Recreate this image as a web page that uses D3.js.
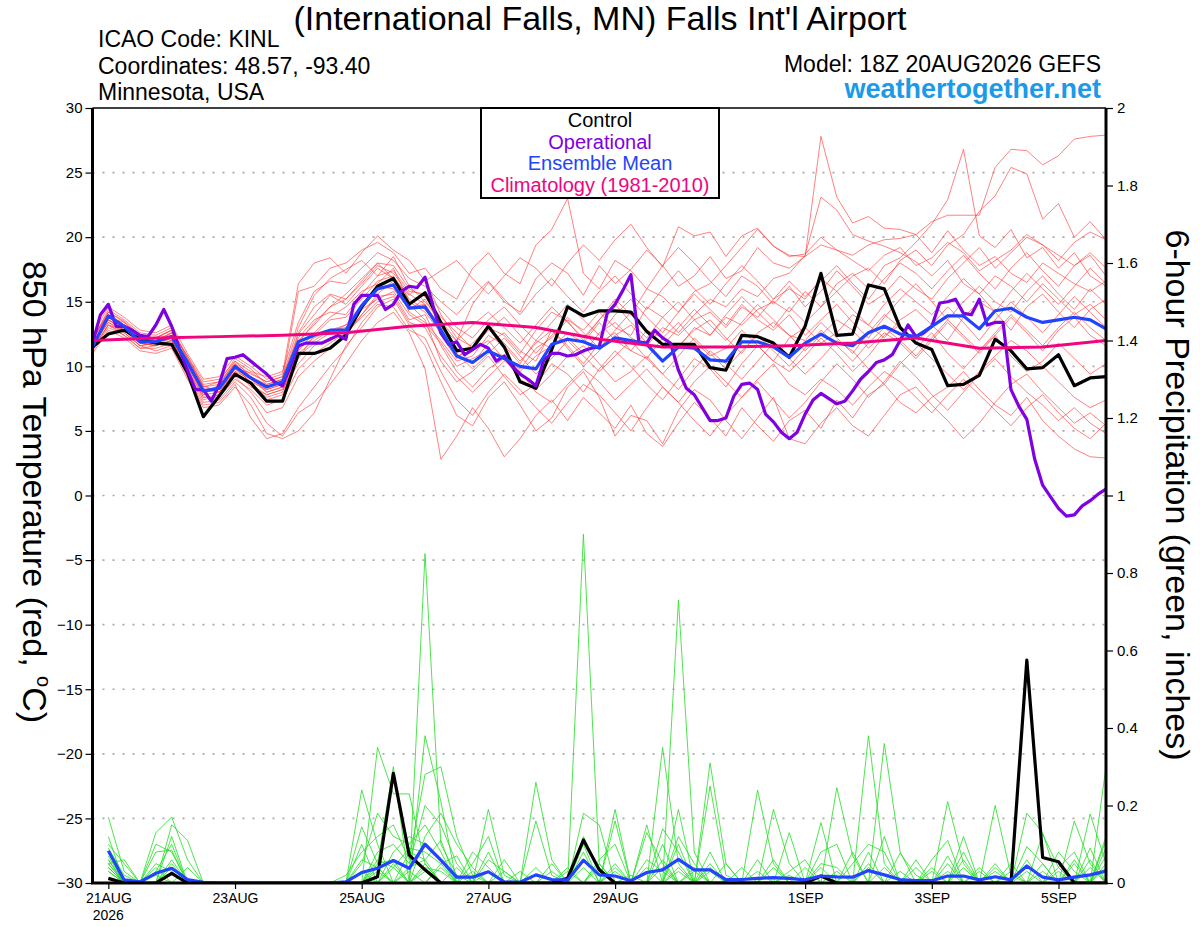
<!DOCTYPE html>
<html>
<head>
<meta charset="utf-8">
<script src="https://cdn.jsdelivr.net/npm/d3@7"></script>
<style>
body { margin: 0; background: #fff; }
svg { font-family: "Liberation Sans", Arial, Helvetica, sans-serif; }
</style>
</head>
<body>
<svg id="chart" width="1200" height="927"></svg>
<script>
// run start 18Z 20AUG2026, 6-hourly steps (operational is 3-hourly)
const runStart = Date.UTC(2026, 7, 20, 18);

const dateTicks = ["2026-08-21", "2026-08-23", "2026-08-25", "2026-08-27", "2026-08-29", "2026-09-01", "2026-09-03", "2026-09-05"];
const tempTicks = [-30, -25, -20, -15, -10, -5, 0, 5, 10, 15, 20, 25, 30];
const precipTicks = [0, 0.2, 0.4, 0.6, 0.8, 1, 1.2, 1.4, 1.6, 1.8, 2];

// 850 hPa temperature, 6-hourly from 18Z 20AUG
const tempControl = [11.5,12.5,12.8,12.1,11.8,11.7,9.5,6.1,7.7,9.4, 8.7,7.3,7.3,11.0,11.0,11.4,12.4,14.6,16.2,16.8,
  14.8,15.7,13.4,11.2,11.4,13.1,11.5,8.8,8.3,11.3, 14.6,13.9,14.3,14.3,14.2,12.7,11.7,11.7,11.7,9.9,
  9.7,12.4,12.3,11.8,10.7,13.1,17.2,12.4,12.5,16.3, 16.0,13.0,11.8,11.3,8.5,8.6,9.3,12.1,11.2,9.8, 9.9,10.9,8.5,9.1,9.2];
const tempMean = [11.5,13.9,13.1,11.9,11.9,12.3,10.3,8.1,8.3,10.0, 9.1,8.4,8.8,11.9,12.4,12.8,12.8,14.7,16.0,16.3,
  14.5,14.6,12.8,10.8,10.3,11.2,10.6,10.0,9.8,11.7, 12.1,11.9,11.4,12.2,12.0,11.7,10.4,11.5,11.4,10.5,
  10.4,11.9,11.9,11.5,10.7,11.8,12.5,11.8,11.6,12.6, 13.1,12.5,12.3,13.1,13.9,13.9,12.9,14.3,14.5,13.8, 13.4,13.6,13.8,13.6,12.9];
// operational, 3-hourly
const tempOperational = [11.8,14.0,14.8,13.1,13.1,12.8,12.4,12.3,13.2,14.4,
  13.1,11.3,9.7,8.2,8.2,7.3,8.6,10.6,10.7,10.9, 10.4,9.9,9.4,8.8,8.5,10.0,11.6,11.8,11.8,11.8,
  12.1,12.4,12.1,14.8,15.5,15.5,15.5,14.4,14.8,15.8, 16.2,16.1,16.9,14.7,12.6,11.7,11.9,10.9,11.3,11.7,
  11.4,10.4,10.8,10.0,9.4,9.0,8.5,10.5,11.0,11.0, 10.8,10.9,11.2,11.4,11.5,14.1,14.8,15.9,17.1,11.9,
  11.8,12.8,12.2,11.8,9.7,8.3,7.8,6.8,5.8,5.8, 6.0,7.7,8.6,8.7,8.2,6.3,5.7,4.9,4.4,4.9,
  6.3,7.4,7.9,7.5,7.1,7.3,8.1,9.0,9.6,10.3, 10.5,10.9,12.0,13.2,12.3,12.6,13.1,14.9,15.0,15.2,
  14.1,14.0,15.2,13.2,13.4,13.4,8.2,6.9,5.9,2.8, 0.8,-0.1,-1.0,-1.6,-1.5,-0.8,-0.4,0.1,0.5];
// climatology, daily
const climatology = [12.0,12.2,12.3,12.4,12.6,13.1,13.4,13.0,12.1,11.5,11.5,11.6,11.8,12.2,11.4,11.5,12.0];

const tempMembers = [
  [12.0,14.2,13.5,12.4,12.0,12.6,10.8,8.5,8.0,9.8,9.5,8.8,9.2, 13.0,15.5,16.8,17.5,18.2,17.0,18.5,16.2,15.0,
   13.5,12.0,14.8,16.5,15.0,14.2,16.8,18.0,17.2,15.5,17.8,16.4,17.5,19.0,17.8,16.2,17.0,18.5,16.8,17.4,19.2,18.0,17.6,
   18.5,19.4,19.0,18.6,19.4,19.8,19.9,20.2,21.2,21.7,21.7,21.7,25.4,26.8,26.7,25.6,26.3,27.6,27.8,27.9],
  [11.8,13.6,13.0,11.8,11.6,12.0,10.0,7.8,8.6,10.4,9.2,8.0,8.4, 12.5,14.0,15.5,14.8,16.2,17.6,16.8,15.5,16.8,
   14.0,12.2,11.5,13.0,12.4,11.0,12.8,14.2,13.5,12.0,13.6,15.2,14.0,16.0,15.4,14.2,15.8,16.4,17.8,19.2,20.6,19.3,18.6,
   18.5,27.8,23.1,21.1,21.6,20.7,20.6,20.2,18.8,20.5,19.0,17.8,18.5,17.2,16.5,18.0,17.2,16.4,15.8,16.6],
  [11.4,13.2,12.8,11.6,11.8,12.4,10.6,8.4,8.8,10.2,8.6,7.6,8.0, 11.2,12.6,13.8,14.6,15.8,16.4,17.6,15.0,14.2,
   12.6,10.8,11.2,12.0,10.5,9.8,11.4,12.2,13.6,12.8,14.2,13.0,12.4,14.6,13.8,12.6,14.0,15.2,14.6,16.0,15.4,16.8,17.2,
   18.6,23.1,22.1,20.2,19.7,19.3,18.8,18.1,17.0,18.2,16.4,15.6,17.0,16.2,15.0,16.4,15.2,14.0,14.8,13.6],
  [12.2,14.0,13.2,12.0,12.2,12.8,10.2,8.0,8.2,9.6,9.0,8.2,8.6, 12.0,13.2,14.6,15.6,16.8,18.0,16.8,14.2,13.4,
   12.0,10.4,10.8,12.4,11.6,10.2,12.0,11.4,12.6,11.8,13.4,12.0,11.2,12.8,12.2,11.4,13.0,12.4,13.8,13.2,14.4,15.0,14.2,
   15.8,14.6,16.4,17.2,16.0,17.8,18.4,19.6,21.0,22.9,26.8,20.1,19.2,20.6,18.4,19.2,17.6,18.8,17.0,16.2],
  [11.6,13.8,13.4,12.2,11.9,12.2,9.8,7.6,7.8,9.4,8.8,7.4,7.8, 10.8,11.8,12.6,13.2,14.4,15.2,15.8,14.0,13.2,
   11.8,10.0,10.6,11.2,10.8,9.6,10.8,11.6,12.2,11.0,12.6,13.4,12.2,11.6,13.0,12.4,13.6,14.2,13.0,14.6,13.8,15.2,16.0,
   15.2,16.8,15.8,17.0,17.6,16.4,18.2,19.0,17.8,19.4,20.2,22.0,23.2,25.4,24.9,21.4,22.6,20.0,21.2,19.8],
  [12.0,14.4,13.6,12.6,12.4,13.0,10.6,8.6,8.8,10.6,9.8,8.6,9.0, 15.8,16.2,17.6,18.0,19.0,19.6,18.8,17.2,17.6,
   16.0,15.2,17.6,18.8,17.2,16.4,19.4,20.6,23.0,17.2,16.0,18.2,17.4,16.0,17.8,19.2,18.0,16.6,15.4,17.0,16.2,14.8,16.2,
   14.6,15.8,17.4,16.2,14.8,15.6,17.0,16.0,15.2,16.8,18.0,19.2,17.6,18.8,20.0,19.4,18.2,19.6,20.4,19.8],
  [12.4,14.6,13.8,12.8,12.6,13.2,11.0,9.0,9.2,10.8,10.0,9.0,9.4, 16.4,18.0,18.4,17.2,18.8,20.1,19.0,18.2,16.6,
   17.4,18.2,16.8,15.6,17.0,18.4,17.6,16.2,18.0,19.4,18.2,19.8,21.0,19.2,17.7,20.8,20.1,20.4,18.5,20.1,20.7,19.3,18.5,
   18.7,20.0,19.0,18.2,17.4,18.6,19.2,17.8,18.4,19.6,18.8,17.4,18.2,19.0,20.2,19.4,18.6,17.8,18.8,17.6],
  [11.2,13.0,12.4,11.4,11.4,11.8,9.4,7.2,7.4,8.8,7.6,5.6,4.6, 6.4,7.2,8.6,10.2,12.0,13.4,14.2,12.6,9.8,
   2.8,4.6,6.8,5.2,3.0,4.4,6.2,7.4,5.8,7.6,6.4,5.2,7.0,4.8,3.8,5.6,7.2,6.0,4.6,6.8,5.4,4.2,5.8,
   6.6,5.2,7.4,6.0,7.8,8.6,7.2,6.4,7.6,8.4,9.6,8.2,7.0,6.2,7.6,5.8,4.6,3.6,3.0,2.9],
  [11.0,12.8,12.2,11.2,11.0,11.4,9.0,6.8,7.0,8.4,7.0,4.8,4.4, 5.0,6.4,9.0,11.6,13.0,14.6,15.2,13.2,11.6,
   8.8,6.2,5.4,7.6,8.8,7.0,5.0,6.0,8.4,9.6,7.6,4.6,6.2,5.8,4.0,6.6,8.2,7.4,5.8,4.4,6.0,7.6,4.4,
   4.0,5.6,6.8,5.4,4.6,6.2,7.8,8.4,7.0,5.8,4.4,5.6,7.2,8.6,9.4,8.0,6.8,5.6,6.4,5.4],
  [11.6,13.4,12.6,11.6,11.8,12.6,10.4,8.2,8.0,9.2,8.0,6.4,6.8, 9.2,10.4,11.4,12.6,14.0,15.6,16.6,14.8,13.6,
   10.4,8.8,9.6,10.8,9.2,7.8,8.6,10.2,9.4,8.0,9.8,11.2,10.0,8.6,7.4,9.0,10.6,9.8,8.4,10.2,11.6,10.4,9.6,
   10.8,12.2,11.0,9.6,10.8,12.4,13.2,11.8,10.6,9.4,8.2,9.6,10.8,12.0,11.2,10.0,8.8,7.6,6.8,7.4],
  [11.8,14.0,13.2,12.2,12.0,12.4,10.2,8.0,8.4,10.0,9.2,8.4,8.8, 11.4,12.2,12.8,13.0,14.6,16.2,16.0,14.4,15.2,
   13.2,11.4,10.2,11.8,12.6,11.2,10.4,12.8,11.6,10.2,11.8,12.6,11.2,10.6,12.2,13.4,12.0,10.8,11.4,12.8,11.6,10.4,12.2,
   13.0,11.8,12.6,14.0,13.2,12.2,13.6,14.4,13.2,12.0,13.8,15.0,14.2,12.8,14.6,15.6,14.2,13.0,14.4,15.2],
  [11.4,13.6,12.8,11.8,11.6,12.0,10.0,7.8,8.0,9.6,8.4,7.8,8.2, 10.2,11.6,12.2,12.4,14.0,15.4,15.6,13.6,14.0,
   11.6,9.6,8.4,9.8,10.6,9.0,8.2,9.4,10.8,11.6,10.2,8.8,9.6,10.8,9.4,8.2,9.8,11.2,10.2,9.0,10.4,11.8,10.6,
   9.4,10.6,12.0,11.2,9.8,8.6,10.2,11.4,12.6,11.0,9.8,11.2,12.4,10.8,9.6,10.4,11.8,10.6,9.4,10.2],
  [11.2,13.2,12.6,11.6,11.2,11.6,9.2,7.0,7.2,8.6,6.0,4.4,4.8, 6.8,8.4,10.0,11.4,13.4,14.8,14.6,12.8,12.2,
   9.6,7.4,6.2,8.0,9.4,8.2,6.8,5.6,7.2,8.6,7.8,6.4,5.0,6.8,8.4,7.2,5.8,4.6,6.2,7.6,8.8,7.4,6.0,
   7.2,8.8,10.2,9.0,7.6,8.8,10.4,9.2,7.8,6.6,8.0,9.4,10.6,9.2,8.0,7.0,5.8,6.8,5.6,4.8],
  [11.8,13.8,13.0,12.0,12.2,12.8,10.6,8.4,8.6,10.2,9.4,8.8,9.2, 12.2,13.6,14.2,14.0,15.6,17.0,17.4,15.8,15.6,
   14.4,13.0,12.2,13.6,14.6,13.2,12.0,13.4,14.8,13.6,12.4,14.0,15.2,13.8,12.6,14.2,15.6,14.4,13.2,14.8,13.6,12.8,14.0,
   12.4,13.6,14.8,13.4,12.2,13.8,15.2,16.4,15.0,13.6,15.0,16.2,15.0,14.2,15.8,17.0,15.6,14.4,16.0,14.8],
  [11.6,13.4,12.8,11.8,12.0,12.4,10.2,8.0,8.2,9.8,9.0,8.0,8.4, 11.0,12.0,12.8,13.2,14.8,16.0,16.4,14.6,14.8,
   12.4,10.6,11.8,13.0,11.8,10.4,11.8,12.8,11.4,10.0,11.2,12.4,13.2,11.8,10.4,11.6,12.8,13.6,12.2,11.0,12.6,13.4,12.4,
   11.2,12.4,13.6,12.8,11.4,12.6,11.8,10.6,12.0,13.4,12.2,11.0,12.4,13.8,12.6,11.2,12.8,13.8,12.4,11.6],
  [11.4,13.2,12.4,11.4,11.6,12.2,9.8,7.6,7.6,9.0,8.2,7.0,7.4, 9.8,11.0,11.8,12.6,13.8,15.0,15.4,13.4,13.0,
   10.8,9.2,8.0,9.2,10.4,9.6,8.0,7.2,8.6,9.8,8.8,7.4,8.6,9.8,8.4,7.2,8.8,10.0,8.8,7.6,9.0,10.2,8.6,
   7.8,9.0,8.2,7.0,8.4,9.6,8.8,7.6,6.4,7.8,9.0,7.8,6.6,5.4,6.8,7.8,6.4,5.2,4.4,5.6],
  [12.2,14.2,13.4,12.4,12.2,12.8,10.8,8.8,9.0,10.4,9.6,9.2,9.6, 13.4,15.8,16.6,16.4,17.6,18.8,18.2,16.8,16.2,
   15.0,14.0,15.4,16.6,15.2,14.0,15.6,16.8,15.4,14.2,15.8,17.0,15.6,14.4,16.0,17.4,16.0,14.8,16.4,17.8,16.6,15.2,16.6,
   15.4,16.6,17.8,16.4,15.2,16.8,18.0,17.2,16.0,17.4,18.6,17.2,16.0,17.6,18.8,17.4,16.2,17.8,18.6,17.0],
  [11.8,13.6,12.8,11.8,11.6,12.0,9.6,7.4,7.8,9.4,8.6,7.8,8.2, 10.6,12.4,13.6,13.8,15.2,16.6,17.0,15.2,14.4,
   12.8,11.0,9.8,11.0,12.2,10.8,9.4,10.6,12.0,10.8,9.6,10.8,12.0,10.6,9.4,10.8,12.2,11.0,9.8,11.2,12.4,11.2,10.0,
   11.4,12.8,11.6,10.4,11.8,13.0,12.0,10.8,12.2,13.6,12.4,11.2,12.6,14.0,12.8,11.6,13.0,14.2,13.0,12.0],
  [11.6,13.8,13.0,12.0,11.8,12.4,10.4,8.2,8.4,9.8,8.8,8.2,8.6, 11.8,13.4,14.6,15.2,16.4,17.8,17.2,15.6,14.8,
   13.0,12.0,13.2,14.2,13.0,11.8,13.2,14.6,13.4,12.2,13.6,14.8,13.4,12.2,13.8,15.0,13.6,12.4,14.0,15.4,14.2,13.0,14.6,
   13.4,14.6,15.8,14.4,13.2,14.8,16.0,15.0,14.0,15.4,16.8,15.6,14.2,15.8,17.2,16.0,14.8,16.2,17.6,16.4],
  [12.0,14.0,13.2,12.2,12.0,12.6,10.4,8.2,8.2,9.8,9.2,8.6,9.0, 12.6,14.6,15.6,15.2,16.6,18.0,17.8,16.0,15.4,
   13.8,12.6,11.4,12.8,13.8,12.4,11.0,12.4,13.8,12.6,11.4,12.8,14.2,12.8,11.6,13.0,14.4,13.2,12.0,13.4,14.8,13.6,12.4,
   12.0,13.4,12.2,11.0,12.6,14.0,13.0,11.8,13.2,14.6,13.4,12.0,13.6,15.0,13.8,12.6,14.0,15.4,14.2,13.0]
];

// 6-hour precipitation (inches), periods ending 00Z 21AUG .. 18Z 5SEP
const precipControl = [0.012,0,0,0,0.025,0,0,0, 0,0,0,0,0,0,0,0, 0,0.016,0.283,0.072,0.034,0,0,0,
  0,0,0,0,0,0.012,0.111,0.034, 0,0,0,0,0,0,0,0, 0,0,0,0,0,0.018,0,0,
  0,0,0,0,0,0,0,0, 0,0,0.575,0.066,0.055,0,0,0];
const precipMean = [0.083,0.008,0.003,0.025,0.038,0.009,0.002,0, 0,0,0,0,0,0,0,0.003,
  0.027,0.038,0.058,0.038,0.1,0.059,0.015,0.015, 0.029,0.003,0.002,0.021,0.009,0.008,0.059,0.021,
  0.018,0.006,0.027,0.034,0.061,0.034,0.034,0.009, 0.009,0.012,0.014,0.012,0.008,0.018,0.016,0.015,
  0.032,0.021,0.009,0.006,0.006,0.018,0.018,0.008, 0.016,0.008,0.044,0.015,0.008,0.015,0.021,0.031];
const precipMembers = [
  [.17,.03,0,.13,.17,.06,0,0, 0,0,0,0,0,0,0,0, 0,.35,.23,.23,.05,0,0,0, .08,0,0,0,0,0,.9,.05,
   0,0,0,.1,0,0,.31,.05, 0,0,0,0,0,0,0,0, .38,.05,0,0,0,0,0,0, .2,.02,0,0,0,0,0,.3],
  [.12,0,0,0,.15,.11,0,0, 0,0,0,0,0,0,0,0, .24,.1,0,0,.85,.1,.02,0, 0,0,0,.26,.06,0,0,0,
   0,0,0,0,.73,.08,0,0, 0,0,0,.13,0,0,0,0, 0,.36,.08,0,0,0,0,0, 0,0,.18,.13,0,0,0,0],
  [.1,.05,0,.1,.08,0,0,0, 0,0,0,0,0,0,0,0, .145,.05,.3,0,.38,.21,0,0, .19,.02,0,0,0,0,0,0,
   .19,0,0,.35,.05,0,0,0, 0,.24,.05,0,0,0,0,0, 0,0,0,0,0,.21,.05,0, 0,0,0,0,0,.16,.05,0],
  [.08,0,0,.08,.085,0,0,0, 0,0,0,0,0,0,0,.02, .08,.12,.15,.06,.28,.3,.12,.02, 0,0,0,0,0,0,.18,.15,
   0,0,.15,0,.19,0,.25,.02, 0,0,0,0,0,0,.246,.07, 0,0,0,0,0,0,.12,0, 0,0,0,0,0,0,.178,.05],
  [.06,0,0,0,.06,0,0,0, 0,0,0,0,0,0,0,0, .05,.18,.12,.1,.15,.08,0,.05, .12,0,0,.16,.02,0,0,0,
   .16,0,.13,.05,0,0,0,0, 0,0,.19,.05,0,.156,0,0, .08,0,0,0,.06,.11,0,0, 0,0,.094,.05,0,0,0,.11],
  [.05,.06,0,.05,.03,0,0,0, 0,0,0,0,0,0,0,0, 0,.08,.1,.05,.2,.15,.05,0, 0,.06,0,0,0,.04,0,.04,
   0,0,0,0,.12,.05,0,0, 0,0,0,0,0,.08,.1,0, 0,0,.077,.02,0,0,0,0, .05,0,0,0,.04,.08,0,.07],
  [.04,0,0,0,0,0,0,0, 0,0,0,0,0,0,0,0, .1,0,.08,.12,.1,.06,0,.08, .04,0,0,0,0,0,.08,0,
   .04,0,0,.14,.08,0,.05,0, .04,0,.06,0,0,0,0,.05, .1,.08,0,0,0,0,.06,0, 0,.03,0,.126,.04,0,.06,0],
  [.03,0,0,.03,.1,0,0,0, 0,0,0,0,0,0,0,0, 0,.05,.06,0,.12,.18,.1,.04, 0,0,.03,0,.05,0,.1,0,
   0,.02,0,0,0,.03,0,.05, 0,0,0,0,.04,0,0,.08, 0,0,0,.04,0,.05,0,.03, 0,0,.06,0,0,.05,0,.12],
  [.09,.02,0,0,.12,0,0,0, 0,0,0,0,0,0,0,0, .06,.04,0,.08,.06,.11,0,0, .06,.03,0,0,0,0,0,.06,
   .1,0,.06,.03,0,0,.08,0, 0,.06,0,0,0,.05,.04,0, 0,.12,0,0,.03,0,.08,0, .03,0,0,.05,0,0,.09,0],
  [.07,0,0,0,0,.04,0,0, 0,0,0,0,0,0,0,0, 0,.06,.04,.09,.08,.05,.07,0, 0,0,0,.04,0,0,.12,.03,
   0,0,.04,0,.1,0,.04,0, 0,0,0,.03,.06,0,0,0, .05,0,0,.06,0,.07,0,0, 0,.05,0,0,.08,.03,0,.09],
  [.05,0,0,0,.05,0,0,0, 0,0,0,0,0,0,0,0, 0,0,.05,0,.04,.03,0,0, 0,0,0,0,0,0,0,0,
   .05,0,0,.06,0,0,0,0, 0,0,0,0,0,0,.03,0, 0,0,0,0,0,0,.04,0, 0,0,0,0,0,0,.04,0],
  [.04,0,0,.02,0,0,0,0, 0,0,0,0,0,0,0,0, 0,.03,0,.04,.06,0,0,.03, 0,0,0,0,0,0,.04,0,
   0,0,0,0,0,.04,0,0, 0,0,0,0,0,0,0,0, 0,.04,0,0,0,0,0,0, 0,0,.03,0,0,0,0,.04],
  [.06,0,0,0,0,0,0,0, 0,0,0,0,0,0,0,0, .03,0,0,0,.05,0,.04,0, 0,0,0,0,.03,0,0,0,
   0,0,0,0,.03,0,0,0, 0,0,.04,0,0,0,0,0, .04,0,0,0,0,.03,0,0, 0,0,0,0,0,.06,0,0],
  [.03,0,0,0,.04,0,0,0, 0,0,0,0,0,0,0,0, 0,0,.04,0,0,.04,0,0, .03,0,0,0,0,0,0,.05,
   0,0,0,0,0,0,.03,0, 0,0,0,0,0,.04,0,0, 0,0,0,0,0,0,0,.04, 0,0,0,.03,0,0,0,0],
  [.05,0,0,0,0,0,0,0, 0,0,0,0,0,0,0,0, 0,.04,0,0,.03,0,0,0, 0,.03,0,0,0,0,0,0,
   .03,0,0,.04,0,0,0,0, 0,0,0,.02,0,0,0,0, 0,0,.03,0,0,0,0,0, .04,0,0,0,0,0,0,.05],
  [.04,0,0,.04,0,0,0,0, 0,0,0,0,0,0,0,0, 0,0,0,.03,0,.05,0,0, 0,0,0,0,0,.03,0,0,
   0,0,0,0,.04,0,0,0, 0,.03,0,0,0,0,0,0, 0,0,0,0,.04,0,0,0, 0,0,0,0,.03,0,0,0]
];

const svg = d3.select("#chart");
const plotLeft = 92.5, plotRight = 1106, plotTop = 108, plotBottom = 883;
const hour = 3600e3;

const x = d3.scaleUtc()
  .domain([new Date(runStart), new Date(runStart + 384 * hour)])
  .range([plotLeft, plotRight]);
const yT = d3.scaleLinear().domain([-30, 30]).range([plotBottom, plotTop]);
const yP = d3.scaleLinear().domain([0, 2]).range([plotBottom, plotTop]);

// turn a value list into timed points: step in hours, first value at offset steps
const timed = (vals, step, offset = 0) =>
  vals.map((v, k) => ({ t: new Date(runStart + (k + offset) * step * hour), v }));

const tLine = d3.line().x(d => x(d.t)).y(d => yT(d.v));
const pLine = d3.line().x(d => x(d.t)).y(d => yP(d.v));

svg.append("clipPath").attr("id", "plotclip")
  .append("rect").attr("x", plotLeft).attr("y", plotTop)
  .attr("width", plotRight - plotLeft).attr("height", plotBottom - plotTop);

// dotted grid on the temperature ticks
svg.append("g").selectAll("line")
  .data(tempTicks.filter(v => v > -30 && v < 30))
  .join("line")
  .attr("x1", plotLeft).attr("x2", plotRight)
  .attr("y1", d => yT(d)).attr("y2", d => yT(d))
  .attr("stroke", "#a8a8a8").attr("stroke-width", 1.6).attr("stroke-dasharray", "2,8");

const plot = svg.append("g").attr("clip-path", "url(#plotclip)");

// ensemble members: temperature (red) and precipitation (green)
plot.append("g").selectAll("path").data(tempMembers).join("path")
  .attr("d", m => tLine(timed(m, 6)))
  .attr("fill", "none").attr("stroke", "#ff3b3b").attr("stroke-opacity", 0.8).attr("stroke-width", 0.8);
plot.append("g").selectAll("path").data(precipMembers).join("path")
  .attr("d", m => pLine(timed(m, 6, 1)))
  .attr("fill", "none").attr("stroke", "#22dd22").attr("stroke-width", 0.8);

// precipitation control and mean
plot.append("path").attr("d", pLine(timed(precipControl, 6, 1)))
  .attr("fill", "none").attr("stroke", "#000").attr("stroke-width", 3.2).attr("stroke-linejoin", "round");
plot.append("path").attr("d", pLine(timed(precipMean, 6, 1)))
  .attr("fill", "none").attr("stroke", "#2244ff").attr("stroke-width", 3.2).attr("stroke-linejoin", "round");

// temperature main lines
plot.append("path").attr("d", tLine(timed(tempControl, 6)))
  .attr("fill", "none").attr("stroke", "#000").attr("stroke-width", 3.2).attr("stroke-linejoin", "round");
plot.append("path").attr("d", tLine(timed(tempOperational, 3)))
  .attr("fill", "none").attr("stroke", "#7f00e0").attr("stroke-width", 3.2).attr("stroke-linejoin", "round");
plot.append("path").attr("d", tLine(timed(tempMean, 6)))
  .attr("fill", "none").attr("stroke", "#2244ff").attr("stroke-width", 3.2).attr("stroke-linejoin", "round");
plot.append("path").attr("d", tLine(timed(climatology, 24)))
  .attr("fill", "none").attr("stroke", "#f0047f").attr("stroke-width", 3).attr("stroke-linejoin", "round");

// axes
const leftAxis = svg.append("g").attr("transform", `translate(${plotLeft},0)`)
  .call(d3.axisLeft(yT).tickValues(tempTicks).tickSize(7).tickPadding(3));
const rightAxis = svg.append("g").attr("transform", `translate(${plotRight},0)`)
  .call(d3.axisRight(yP).tickValues(precipTicks).tickSize(7).tickPadding(4).tickFormat(d => String(+d.toFixed(1))));
const fmtDate = d3.utcFormat("%-d%b");
const bottomAxis = svg.append("g").attr("transform", `translate(0,${plotBottom})`)
  .call(d3.axisBottom(x).tickValues(dateTicks.map(d => new Date(d + "T00:00:00Z")))
    .tickSize(6).tickPadding(4).tickFormat(d => fmtDate(d).toUpperCase()));
[leftAxis, rightAxis, bottomAxis].forEach(a => {
  a.select(".domain").remove();
  a.selectAll("text").attr("font-family", "Liberation Sans, Arial, sans-serif").attr("fill", "#000");
  a.selectAll("line").attr("stroke", "#000").attr("stroke-width", 1.2);
});
leftAxis.selectAll("text").attr("font-size", 15);
rightAxis.selectAll("text").attr("font-size", 15);
bottomAxis.selectAll("text").attr("font-size", 14);
bottomAxis.append("text").attr("x", x(new Date(dateTicks[0] + "T00:00:00Z"))).attr("y", 37)
  .attr("text-anchor", "middle").attr("font-size", 14).attr("fill", "#000").text("2026");

// frame
svg.append("line").attr("x1", plotLeft).attr("x2", plotRight).attr("y1", plotTop).attr("y2", plotTop)
  .attr("stroke", "#000").attr("stroke-width", 1.5);
svg.append("line").attr("x1", plotLeft - 1.5).attr("x2", plotRight + 1.5).attr("y1", plotBottom).attr("y2", plotBottom)
  .attr("stroke", "#000").attr("stroke-width", 3);
svg.append("line").attr("x1", plotLeft).attr("x2", plotLeft).attr("y1", plotTop).attr("y2", plotBottom)
  .attr("stroke", "#000").attr("stroke-width", 3);
svg.append("line").attr("x1", plotRight).attr("x2", plotRight).attr("y1", plotTop).attr("y2", plotBottom)
  .attr("stroke", "#000").attr("stroke-width", 3);

// legend box
const legend = svg.append("g");
legend.append("rect").attr("x", 481).attr("y", plotTop).attr("width", 238).attr("height", 90)
  .attr("fill", "#fff").attr("stroke", "#000").attr("stroke-width", 2);
[["Control", "#000"], ["Operational", "#7f00e0"], ["Ensemble Mean", "#2244ff"], ["Climatology (1981-2010)", "#f0047f"]]
  .forEach(([label, col], k) => {
    legend.append("text").attr("x", 600).attr("y", 127 + k * 21.6).attr("text-anchor", "middle")
      .attr("font-size", 20).attr("fill", col).text(label);
  });

// titles
svg.append("text").attr("x", 600).attr("y", 30).attr("text-anchor", "middle").attr("font-size", 34)
  .text("(International Falls, MN) Falls Int'l Airport");
const info = ["ICAO Code: KINL", "Coordinates: 48.57, -93.40", "Minnesota, USA"];
info.forEach((s, k) => svg.append("text").attr("x", 98).attr("y", 47 + k * 26.5).attr("font-size", 23).text(s));
svg.append("text").attr("x", 1101).attr("y", 72).attr("text-anchor", "end").attr("font-size", 23)
  .text("Model: 18Z 20AUG2026 GEFS");
svg.append("text").attr("x", 1101).attr("y", 98).attr("text-anchor", "end").attr("font-size", 27)
  .attr("font-weight", "bold").attr("fill", "#1a9ae8").text("weathertogether.net");

const yl = svg.append("text").attr("transform", "translate(23,492) rotate(90)")
  .attr("text-anchor", "middle").attr("font-size", 34);
yl.append("tspan").text("850 hPa Temperature (red, ");
yl.append("tspan").attr("font-size", 20).attr("dy", -14).text("o");
yl.append("tspan").attr("dy", 14).text("C)");
svg.append("text").attr("transform", "translate(1166,495) rotate(90)")
  .attr("text-anchor", "middle").attr("font-size", 34)
  .text("6-hour Precipitation (green, inches)");
</script>
</body>
</html>
